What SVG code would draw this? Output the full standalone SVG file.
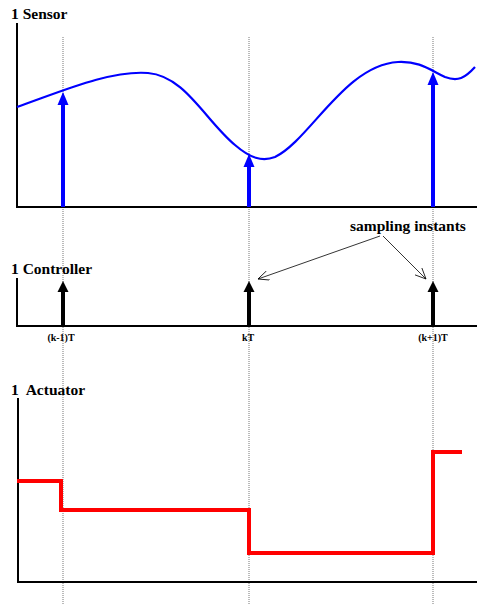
<svg xmlns="http://www.w3.org/2000/svg" width="477" height="605" viewBox="0 0 477 605">
<style>
.t{font-family:"Liberation Serif","Times New Roman",serif;font-weight:bold;fill:#000}
.ttl{font-size:15.5px}
.tick{font-size:10px}
.ax{stroke:#000;stroke-width:2;fill:none}
.grid{stroke:#777;stroke-width:1;stroke-dasharray:1,1;fill:none}
.blue{stroke:#0000ff;stroke-width:4;fill:none}
.blk{stroke:#000;stroke-width:4;fill:none}
.thin{stroke:#000;stroke-width:0.8;fill:none}
</style>
<defs>
<marker id="open" markerWidth="12" markerHeight="10" refX="11" refY="5" orient="auto" markerUnits="userSpaceOnUse">
<path d="M0,0 L11,5 L0,10" fill="none" stroke="#000" stroke-width="0.8"/>
</marker>
</defs>
<rect width="477" height="605" fill="#fff"/>
<g id="grid">
<line class="grid" x1="63" y1="37" x2="63" y2="605"/>
<line class="grid" x1="249" y1="37" x2="249" y2="605"/>
<line class="grid" x1="433" y1="37" x2="433" y2="605"/>
</g>
<g id="sensor">
<text class="t ttl" x="11" y="19">1 Sensor</text>
<polyline class="ax" points="17,23 17,207 477,207"/>
<path d="M17,107 C60,92 110,70 148,73 C185,76 205,120 235,145 C250,158 262,162 275,157 C310,140 345,65 398,62 C420,61 430,70 445,77 C458,82 465,78 475,67" fill="none" stroke="#0000ff" stroke-width="2.2"/>
<line class="blue" x1="63" y1="207" x2="63" y2="104"/>
<polygon points="63,92 68.5,105 57.5,105" fill="#0000ff"/>
<line class="blue" x1="249" y1="207" x2="249" y2="165"/>
<polygon points="249,154 254.5,167 243.5,167" fill="#0000ff"/>
<line class="blue" x1="433" y1="207" x2="433" y2="83"/>
<polygon points="433,72 438.5,85 427.5,85" fill="#0000ff"/>
</g>
<g id="controller">
<text class="t ttl" x="11" y="274">1 Controller</text>
<polyline class="ax" points="17,278 17,326 477,326"/>
<line class="blk" x1="63" y1="326" x2="63" y2="290"/>
<polygon points="63,281 68.5,292 57.5,292" fill="#000"/>
<line class="blk" x1="249" y1="326" x2="249" y2="290"/>
<polygon points="249,281 254.5,292 243.5,292" fill="#000"/>
<line class="blk" x1="433" y1="326" x2="433" y2="290"/>
<polygon points="433,281 438.5,292 427.5,292" fill="#000"/>
<text class="t tick" x="61" y="341" text-anchor="middle">(k-1)T</text>
<text class="t tick" x="248" y="341" text-anchor="middle">kT</text>
<text class="t tick" x="433" y="341" text-anchor="middle">(k+1)T</text>
</g>
<g id="sampling-label">
<text class="t" x="350" y="231" font-size="15.5">sampling instants</text>
</g>
<g id="connectors">
<line class="thin" x1="380" y1="236" x2="258" y2="279" marker-end="url(#open)"/>
<line class="thin" x1="383" y1="236" x2="426" y2="279" marker-end="url(#open)"/>
</g>
<g id="actuator">
<text class="t ttl" x="11" y="395" xml:space="preserve">1  Actuator</text>
<polyline class="ax" points="18,398 18,582 477,582"/>
<polyline points="17,481 61,481 61,510 249,510 249,553 433,553 433,452 462,452" fill="none" stroke="#ff0000" stroke-width="4"/>
</g>
</svg>
